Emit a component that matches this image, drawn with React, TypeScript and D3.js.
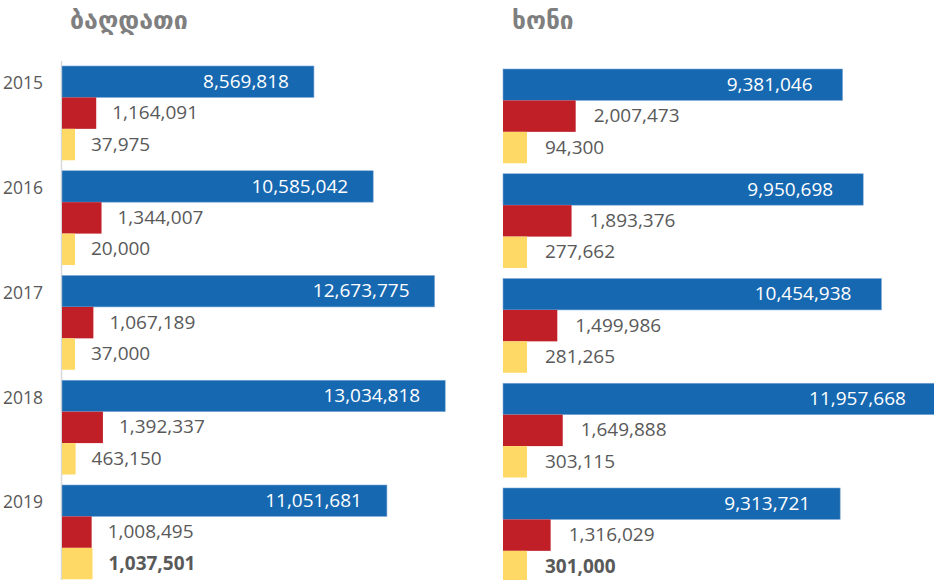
import React, { useEffect, useRef } from 'react';
import * as d3 from 'd3';

const years = ['2015', '2016', '2017', '2018', '2019'];
const series = ['blue', 'red', 'yellow'];

const baghdatiBlue = [8569818, 10585042, 12673775, 13034818, 11051681];
const baghdatiRed = [1164091, 1344007, 1067189, 1392337, 1008495];
const baghdatiYellow = [37975, 20000, 37000, 463150, 1037501];

const khoniBlue = [9381046, 9950698, 10454938, 11957668, 9313721];
const khoniRed = [2007473, 1893376, 1499986, 1649888, 1316029];
const khoniYellow = [94300, 277662, 281265, 303115, 301000];

const colors: Record<string, string> = { blue: '#1668b1', red: '#c01f28', yellow: '#ffd966' };

const App: React.FC = () => {
  const svgRef = useRef<SVGSVGElement>(null);

  useEffect(() => {
    document.body.style.margin = '0';
    if (!svgRef.current) return;
    const svg = d3.select(svgRef.current);
    svg.selectAll('*').remove();

    const font = "'Open Sans', sans-serif";
    const panels = [
      { title: 'ბაღდათი', titleX: 70, titleSize: 25, x0: 62, y0: 66, maxV: 14e6, pxPerM: 29.4, inset: 25, redOff: 16, yelOff: 16, minYel: 13, axis: true,
        values: [baghdatiBlue, baghdatiRed, baghdatiYellow] },
      { title: 'ხონი', titleX: 512, titleSize: 24.5, x0: 503, y0: 69, maxV: 12e6, pxPerM: 36.2, inset: 30, redOff: 18, yelOff: 18, minYel: 24, axis: false,
        values: [khoniBlue, khoniRed, khoniYellow] },
    ];

    panels.forEach(p => {
      const x = d3.scaleLinear().domain([0, p.maxV]).range([p.x0, p.x0 + p.pxPerM * p.maxV / 1e6]);
      const y = d3.scaleBand<string>().domain(years).range([p.y0, p.y0 + 104.75 * 4.9]).paddingInner(0.1).paddingOuter(0);
      const yi = d3.scaleBand<string>().domain(series).range([0, y.bandwidth()]);

      svg.append('text')
        .attr('x', p.titleX).attr('y', 29)
        .attr('font-family', "'DejaVu Sans', sans-serif")
        .attr('font-weight', 'bold').attr('font-size', p.titleSize)
        .attr('fill', '#7f7f7f')
        .text(p.title);

      if (p.axis) {
        svg.append('line')
          .attr('x1', p.x0 - 0.5).attr('x2', p.x0 - 0.5)
          .attr('y1', 61).attr('y2', 580)
          .attr('stroke', '#d9d9d9').attr('stroke-width', 1.5);

        svg.selectAll(null).data(years).enter().append('text')
          .attr('x', 43)
          .attr('y', d => (y(d) as number) + yi.bandwidth() / 2 + 3)
          .attr('text-anchor', 'end').attr('dominant-baseline', 'middle')
          .attr('font-family', font).attr('font-size', 17.5)
          .attr('fill', '#595959')
          .text(d => d);
      }

      series.forEach((s, si) => {
        const vals = p.values[si];
        const w = (v: number) => {
          const raw = x(v) - p.x0;
          return s === 'yellow' ? Math.max(p.minYel, raw) : raw;
        };
        const g = svg.append('g');
        g.selectAll('rect').data(vals).enter().append('rect')
          .attr('x', p.x0)
          .attr('y', (_, i) => (y(years[i]) as number) + (yi(s) as number))
          .attr('width', v => w(v))
          .attr('height', yi.bandwidth())
          .attr('fill', colors[s])
          .attr('stroke', s === 'blue' ? '#7fa9d6' : 'none')
          .attr('stroke-width', 0.6);

        g.selectAll('text').data(vals).enter().append('text')
          .attr('x', v => s === 'blue' ? p.x0 + w(v) - p.inset : p.x0 + w(v) + (s === 'red' ? p.redOff : p.yelOff))
          .attr('y', (_, i) => (y(years[i]) as number) + (yi(s) as number) + yi.bandwidth() / 2 + 1)
          .attr('text-anchor', s === 'blue' ? 'end' : 'start')
          .attr('dominant-baseline', 'middle')
          .attr('font-family', font).attr('font-size', 19)
          .attr('font-weight', (_, i) => (s === 'yellow' && i === years.length - 1 ? 'bold' : 'normal'))
          .attr('fill', s === 'blue' ? '#ffffff' : '#595959')
          .text(v => d3.format(',')(v));
      });
    });
  }, []);

  return <svg ref={svgRef} width={934} height={580} style={{ display: 'block', background: '#fff' }} />;
};

export default App;
